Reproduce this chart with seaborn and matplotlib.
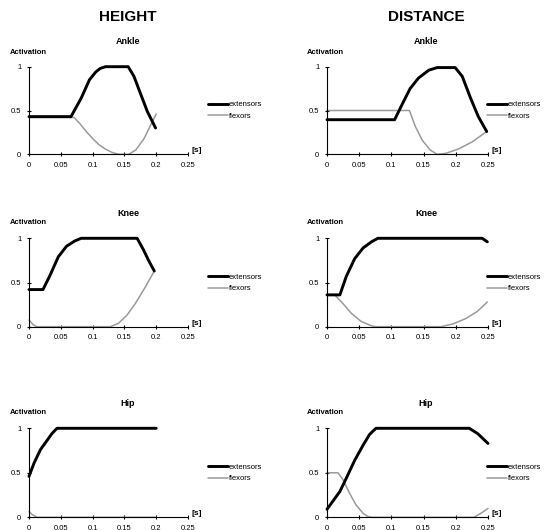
import matplotlib
matplotlib.use("Agg")
import matplotlib.pyplot as plt
import seaborn as sns
import pandas as pd

sns.set_style("white")
plt.rcParams["font.family"] = ["Liberation Sans", "DejaVu Sans"]
plt.rcParams["text.color"] = "black"
plt.rcParams["xtick.color"] = "black"
plt.rcParams["ytick.color"] = "black"
plt.rcParams["axes.labelcolor"] = "black"

# ---------------- data ----------------
columns = ["HEIGHT", "DISTANCE"]
joints = ["Ankle", "Knee", "Hip"]
series_labels = ["extensors", "flexors"]
x_ticks = [0, 0.05, 0.1, 0.15, 0.2, 0.25]
x_tick_labels = ["0", "0.05", "0.1", "0.15", "0.2", "0.25"]
y_ticks = [0, 0.5, 1]
y_tick_labels = ["0", "0.5", "1"]

# HEIGHT - Ankle
h_ankle_t_ext = [0, 0.066, 0.082, 0.095, 0.105, 0.112, 0.12, 0.156, 0.165, 0.176, 0.186, 0.199]
h_ankle_ext = [0.43, 0.43, 0.64, 0.85, 0.94, 0.98, 1.0, 1.0, 0.89, 0.68, 0.49, 0.30]
h_ankle_t_flx = [0, 0.071, 0.08, 0.09, 0.10, 0.110, 0.12, 0.131, 0.142, 0.157, 0.168, 0.181, 0.191, 0.2]
h_ankle_flx = [0.42, 0.42, 0.35, 0.26, 0.18, 0.11, 0.06, 0.02, 0.0, 0.0, 0.05, 0.18, 0.33, 0.46]

# DISTANCE - Ankle
d_ankle_t_ext = [0, 0.105, 0.116, 0.129, 0.142, 0.158, 0.171, 0.199, 0.21, 0.223, 0.235, 0.248]
d_ankle_ext = [0.395, 0.395, 0.56, 0.75, 0.87, 0.96, 0.99, 0.99, 0.89, 0.64, 0.43, 0.26]
d_ankle_t_flx = [0, 0.128, 0.137, 0.148, 0.16, 0.171, 0.184, 0.204, 0.225, 0.248]
d_ankle_flx = [0.5, 0.5, 0.32, 0.16, 0.05, 0.0, 0.01, 0.06, 0.14, 0.26]

# HEIGHT - Knee
h_knee_t_ext = [0, 0.022, 0.033, 0.046, 0.059, 0.072, 0.082, 0.17, 0.18, 0.188, 0.197]
h_knee_ext = [0.42, 0.42, 0.58, 0.79, 0.91, 0.97, 1.0, 1.0, 0.87, 0.75, 0.63]
h_knee_t_flx = [0, 0.007, 0.012, 0.128, 0.141, 0.154, 0.167, 0.183, 0.197]
h_knee_flx = [0.075, 0.02, 0.0, 0.0, 0.04, 0.13, 0.26, 0.45, 0.63]

# DISTANCE - Knee
d_knee_t_ext = [0, 0.02, 0.03, 0.043, 0.056, 0.069, 0.079, 0.241, 0.249]
d_knee_ext = [0.36, 0.36, 0.57, 0.77, 0.89, 0.96, 1.0, 1.0, 0.96]
d_knee_t_flx = [0, 0.012, 0.025, 0.038, 0.053, 0.069, 0.075, 0.177, 0.195, 0.215, 0.233, 0.249]
d_knee_flx = [0.36, 0.36, 0.26, 0.15, 0.06, 0.01, 0.0, 0.0, 0.03, 0.09, 0.17, 0.28]

# HEIGHT - Hip
h_hip_t_ext = [0, 0.008, 0.018, 0.029, 0.036, 0.044, 0.2]
h_hip_ext = [0.46, 0.61, 0.76, 0.87, 0.94, 1.0, 1.0]
h_hip_t_flx = [0, 0.005, 0.013, 0.2]
h_hip_flx = [0.065, 0.03, 0.0, 0.0]

# DISTANCE - Hip
d_hip_t_ext = [0, 0.009, 0.02, 0.03, 0.043, 0.056, 0.066, 0.076, 0.221, 0.234, 0.25]
d_hip_ext = [0.09, 0.18, 0.29, 0.44, 0.64, 0.81, 0.93, 1.0, 1.0, 0.94, 0.83]
d_hip_t_flx = [0, 0.017, 0.025, 0.035, 0.045, 0.056, 0.063, 0.07, 0.228, 0.239, 0.25]
d_hip_flx = [0.5, 0.5, 0.42, 0.27, 0.14, 0.045, 0.01, 0.0, 0.0, 0.045, 0.10]

panel_data = {
    ("HEIGHT", "Ankle"): (h_ankle_t_ext, h_ankle_ext, h_ankle_t_flx, h_ankle_flx),
    ("DISTANCE", "Ankle"): (d_ankle_t_ext, d_ankle_ext, d_ankle_t_flx, d_ankle_flx),
    ("HEIGHT", "Knee"): (h_knee_t_ext, h_knee_ext, h_knee_t_flx, h_knee_flx),
    ("DISTANCE", "Knee"): (d_knee_t_ext, d_knee_ext, d_knee_t_flx, d_knee_flx),
    ("HEIGHT", "Hip"): (h_hip_t_ext, h_hip_ext, h_hip_t_flx, h_hip_flx),
    ("DISTANCE", "Hip"): (d_hip_t_ext, d_hip_ext, d_hip_t_flx, d_hip_flx),
}

# ---------------- layout (pixels) ----------------
W, H = 558, 530
fig = plt.figure(figsize=(W / 100, H / 100), dpi=100)

def fx(px):
    return px / W

def fy(py):
    return 1 - py / H

col_axes_x = {"HEIGHT": (29, 159), "DISTANCE": (327, 161)}
col_center = {"HEIGHT": 128, "DISTANCE": 426}
col_act_x = {"HEIGHT": 10, "DISTANCE": 307}
col_leg_x = {"HEIGHT": 208, "DISTANCE": 487}
row_axes_y = {"Ankle": (66.7, 154.3), "Knee": (238.3, 326.7), "Hip": (428.3, 517.3)}
row_title_y = {"Ankle": 42, "Knee": 213, "Hip": 403}
row_act_y = {"Ankle": 52, "Knee": 223, "Hip": 412}
row_leg_y = {"Ankle": 110.5, "Knee": 283, "Hip": 473}

ext_color = "black"
flx_color = "#9a9a9a"
small = 5.5

for col in columns:
    fig.text(fx(col_center[col]), fy(17), col, ha="center", va="center",
             fontsize=11, fontweight="bold", color="black")
    for joint in joints:
        x0, w = col_axes_x[col]
        ytop, ybot = row_axes_y[joint]
        ax = fig.add_axes([fx(x0), fy(ybot), fx(w), (ybot - ytop) / H])
        t_e, v_e, t_f, v_f = panel_data[(col, joint)]
        sns.lineplot(x=t_e, y=v_e, ax=ax, color=ext_color, linewidth=2.1,
                     label=series_labels[0], estimator=None, sort=False, clip_on=False, zorder=3)
        sns.lineplot(x=t_f, y=v_f, ax=ax, color=flx_color, linewidth=1.1,
                     label=series_labels[1], estimator=None, sort=False, clip_on=False, zorder=2)
        ax.set_xlim(0, 0.25)
        ax.set_ylim(0, 1)
        ax.set_xticks(x_ticks)
        ax.set_xticklabels(x_tick_labels)
        ax.set_yticks(y_ticks)
        ax.set_yticklabels(y_tick_labels)
        ax.set_xlabel("")
        ax.set_ylabel("")
        for s in ["top", "right"]:
            ax.spines[s].set_visible(False)
        for s in ["left", "bottom"]:
            ax.spines[s].set_color("black")
            ax.spines[s].set_linewidth(0.8)
        ax.tick_params(axis="both", which="major", labelsize=small, length=3,
                       direction="inout", width=0.8, color="black", labelcolor="black",
                       pad=4, bottom=True, left=True)
        ax.patch.set_alpha(0)
        ax.text(1.02, 0.0, "[s]", transform=ax.transAxes, ha="left", va="bottom",
                fontsize=6, fontweight="bold", color="black")
        leg = ax.legend(loc="center left",
                        bbox_to_anchor=(fx(col_leg_x[col]), fy(row_leg_y[joint])),
                        bbox_transform=fig.transFigure, frameon=False, fontsize=small,
                        handlelength=2.6, handletextpad=0.15, borderpad=0,
                        borderaxespad=0, labelspacing=0.55)
        for txt in leg.get_texts():
            txt.set_color("black")
        fig.text(fx(col_center[col]), fy(row_title_y[joint]), joint, ha="center",
                 va="center", fontsize=6.5, fontweight="bold", color="black")
        fig.text(fx(col_act_x[col]), fy(row_act_y[joint]), "Activation", ha="left",
                 va="center", fontsize=5.5, fontweight="bold", color="black")

fig.savefig("out.png", dpi=100)
